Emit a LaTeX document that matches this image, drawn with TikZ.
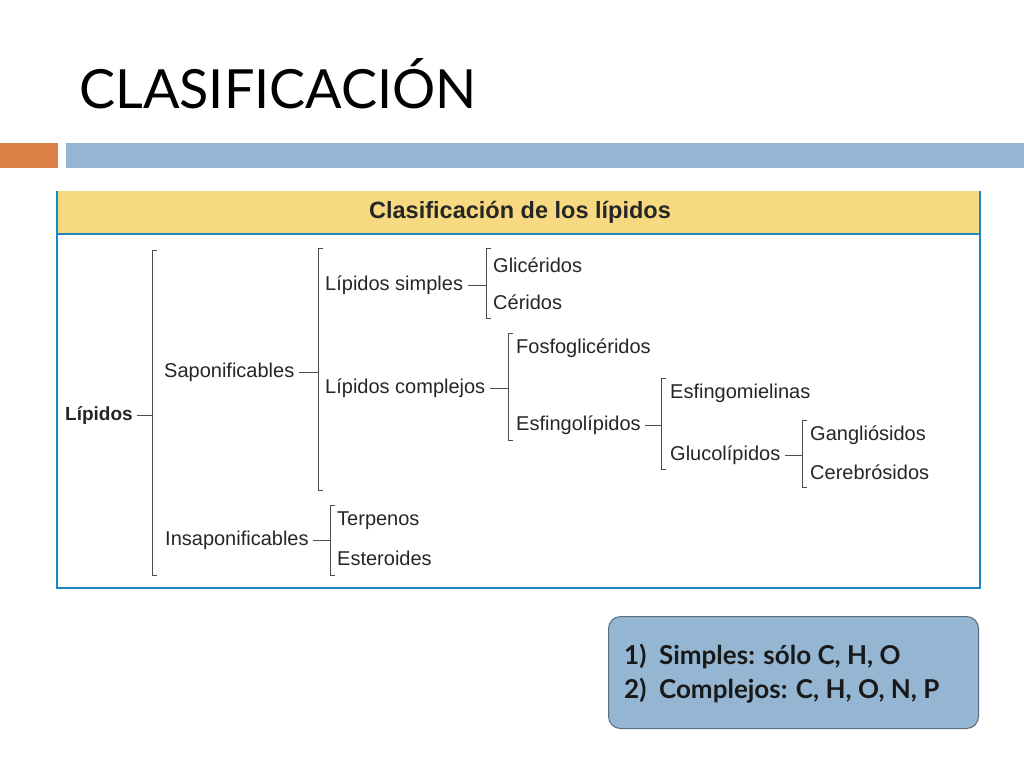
\documentclass[tikz,border=0pt]{standalone}
\usepackage{fontspec}
\setmainfont{Liberation Sans}
\newfontfamily\titlefont{Lato}
\begin{document}
\begin{tikzpicture}[x=1pt,y=-1pt,
  t/.style={anchor=west,inner sep=0pt,font=\fontsize{20}{22}\selectfont,text=black!85},
  br/.style={draw=black!70,line width=0.9pt},
]
\definecolor{orng}{HTML}{DD8047}
\definecolor{lblue}{HTML}{94B6D2}
\definecolor{hdr}{HTML}{F6D980}
\definecolor{bord}{HTML}{1F86C6}
\useasboundingbox (0,0) rectangle (1024,768);
\fill[white] (0,0) rectangle (1024,768);
\node[anchor=west,inner sep=0pt,font=\titlefont\fontsize{54}{60}\selectfont] (title) at (79,84) {CLASIFICACIÓN};
\fill[orng] (0,143) rectangle (58,168);
\fill[lblue] (66,143) rectangle (1024,168);
% scanned box
\fill[hdr] (57,191) rectangle (980,233);
\draw[bord,line width=2.5pt] (57,191) -- (57,588) -- (980,588) -- (980,191);
\draw[bord,line width=2.5pt] (57,234) -- (980,234);
\node[inner sep=0pt,font=\bfseries\fontsize{23.5}{26}\selectfont,text=black!85] (hd) at (520,212) {Clasificación de los lípidos};
% tree
\node[t,font=\bfseries\fontsize{19}{22}\selectfont] (lip) at (65,415) {Lípidos};
\node[t] (sap) at (164,372) {Saponificables};
\node[t] (ins) at (165,540) {Insaponificables};
\node[t] (ter) at (337,521) {Terpenos};
\node[t] (est) at (337,558) {Esteroides};
\node[t] (ls) at (325,285) {Lípidos simples};
\node[t] (gli) at (493,265) {Glicéridos};
\node[t] (cer) at (493,302) {Céridos};
\node[t] (lc) at (325,388) {Lípidos complejos};
\node[t] (fos) at (516,348) {Fosfoglicéridos};
\node[t] (esf) at (516,425) {Esfingolípidos};
\node[t] (esm) at (670,393) {Esfingomielinas};
\node[t] (glu) at (670,455) {Glucolípidos};
\node[t] (gan) at (810,435) {Gangliósidos};
\node[t] (ceb) at (810,472) {Cerebrósidos};
% brackets
\draw[br] ([xshift=4pt]lip.east) -- (152,415);
\draw[br] (157,250) -- (152,250) -- (152,575) -- (157,575);
\draw[br] ([xshift=5pt]sap.east) -- (318,372);
\draw[br] (323,248) -- (318,248) -- (318,490) -- (323,490);
\draw[br] ([xshift=4pt]ins.east) -- (330,540);
\draw[br] (335,505) -- (330,505) -- (330,575) -- (335,575);
\draw[br] ([xshift=5pt]ls.east) -- (486,285);
\draw[br] (491,248) -- (486,248) -- (486,318) -- (491,318);
\draw[br] ([xshift=5pt]lc.east) -- (508,388);
\draw[br] (513,333) -- (508,333) -- (508,440) -- (513,440);
\draw[br] ([xshift=4pt]esf.east) -- (661,425);
\draw[br] (666,378) -- (661,378) -- (661,469) -- (666,469);
\draw[br] ([xshift=5pt]glu.east) -- (802,455);
\draw[br] (807,420) -- (802,420) -- (802,487) -- (807,487);
% note box
\node[draw=lblue!60!black,line width=1pt,fill=lblue,rounded corners=12pt,minimum width=370pt,minimum height=112pt,anchor=north west] (note) at (608,616) {};
\node[anchor=west,inner sep=0pt,align=left,font=\titlefont\bfseries\fontsize{26}{34}\selectfont,text=black!90] (nt) at (624,674) {1)\ \ Simples: sólo C, H, O\\2)\ \ Complejos: C, H, O, N, P};
\end{tikzpicture}
\end{document}
